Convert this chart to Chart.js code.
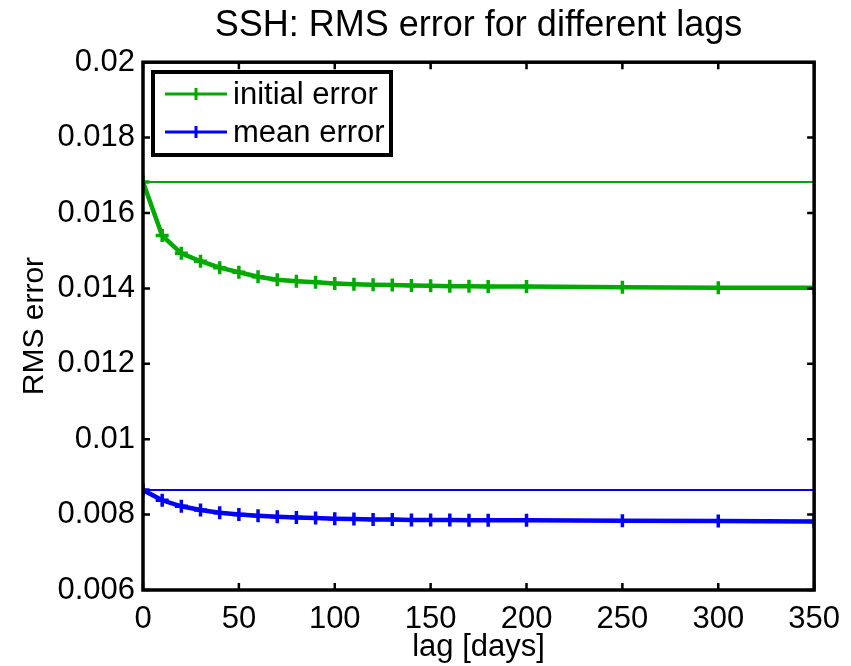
<!DOCTYPE html>
<html lang="en">
<head>
    <meta charset="UTF-8">
    <title>SSH: RMS error for different lags</title>
    <script src="https://cdn.jsdelivr.net/npm/chart.js@4.4.1/dist/chart.umd.min.js"></script>
    <style>
        body { margin: 0; background: #fff; }
        #wrap { width: 851px; height: 666px; }
    </style>
</head>
<body>
    <div id="wrap"><canvas id="myChart" width="851" height="666"></canvas></div>

    <script type="text/javascript">
        // lags in days
        var lags = [0, 10, 20, 30, 40, 50, 60, 70, 80, 90, 100, 110, 120, 130, 140, 150, 160, 170, 180, 200, 250, 300, 350];
        var initialError = [0.01682, 0.01540, 0.01493, 0.01472, 0.01455, 0.01443, 0.01431, 0.01423, 0.01419, 0.01416,
                            0.01413, 0.01411, 0.01410, 0.01409, 0.01408, 0.01407, 0.01406, 0.01406, 0.01405, 0.01405,
                            0.01403, 0.01402, 0.01402];
        var meanError = [0.00865, 0.00838, 0.00822, 0.00812, 0.00805, 0.00800, 0.00797, 0.00794, 0.00792, 0.00791,
                         0.00789, 0.00788, 0.00787, 0.00787, 0.00786, 0.00786, 0.00786, 0.00785, 0.00785, 0.00785,
                         0.00784, 0.00783, 0.00782];
        var initialRef = 0.01682;
        var meanRef = 0.00865;
        var yTicks = [0.006, 0.008, 0.01, 0.012, 0.014, 0.016, 0.018, 0.02];
        var xTicks = [0, 50, 100, 150, 200, 250, 300, 350];

        var green = 'rgb(0,170,0)';
        var blue = 'rgb(0,0,255)';
        var font = '"Liberation Sans", Arial, Helvetica, sans-serif';

        function pts(xs, ys) {
            return xs.map(function (x, i) { return { x: x, y: ys[i] }; });
        }

        // MATLAB style box: thick frame with inward ticks on all sides, plus a boxed legend
        var boxPlugin = {
            id: 'box',
            afterDatasetsDraw: function (chart) {
                var ctx = chart.ctx, a = chart.chartArea;
                var xs = chart.scales.x, ys = chart.scales.y;
                ctx.save();
                ctx.strokeStyle = '#000';
                ctx.lineWidth = 3.5;
                ctx.strokeRect(a.left, a.top, a.right - a.left, a.bottom - a.top);
                ctx.lineWidth = 2.5;
                ctx.beginPath();
                xTicks.forEach(function (v) {
                    var px = xs.getPixelForValue(v);
                    ctx.moveTo(px, a.bottom); ctx.lineTo(px, a.bottom - 7);
                    ctx.moveTo(px, a.top); ctx.lineTo(px, a.top + 7);
                });
                yTicks.forEach(function (v) {
                    var py = ys.getPixelForValue(v);
                    ctx.moveTo(a.left, py); ctx.lineTo(a.left + 7, py);
                    ctx.moveTo(a.right, py); ctx.lineTo(a.right - 7, py);
                });
                ctx.stroke();

                // legend
                var lx = 153, ly = 72, lw = 238, lh = 83;
                ctx.fillStyle = '#fff';
                ctx.fillRect(lx, ly, lw, lh);
                ctx.strokeStyle = '#000';
                ctx.lineWidth = 4;
                ctx.strokeRect(lx, ly, lw, lh);
                var items = chart.data.datasets.filter(function (d) { return d.inLegend; });
                ctx.font = '31px ' + font;
                ctx.textBaseline = 'middle';
                items.forEach(function (d, i) {
                    var cy = 94 + i * 38;
                    ctx.strokeStyle = d.borderColor;
                    ctx.lineWidth = 3;
                    ctx.beginPath();
                    ctx.moveTo(165, cy); ctx.lineTo(227, cy);
                    ctx.moveTo(196, cy - 6); ctx.lineTo(196, cy + 6);
                    ctx.stroke();
                    ctx.fillStyle = '#000';
                    ctx.fillText(d.label, 233, cy + 1);
                });
                ctx.restore();
            }
        };

        var ctx = document.getElementById('myChart').getContext('2d');
        var myChart = new Chart(ctx, {
            type: 'line',
            data: {
                datasets: [
                    {
                        label: 'initial ref',
                        data: pts([0, 350], [initialRef, initialRef]),
                        borderColor: green, borderWidth: 2, pointRadius: 0
                    },
                    {
                        label: 'mean ref',
                        data: pts([0, 350], [meanRef, meanRef]),
                        borderColor: blue, borderWidth: 2, pointRadius: 0
                    },
                    {
                        label: 'initial error',
                        inLegend: true,
                        data: pts(lags, initialError),
                        borderColor: green, backgroundColor: green,
                        borderWidth: 4.5, pointStyle: 'cross', pointRadius: 6.5,
                        pointBorderWidth: 3.5
                    },
                    {
                        label: 'mean error',
                        inLegend: true,
                        data: pts(lags, meanError),
                        borderColor: blue, backgroundColor: blue,
                        borderWidth: 4.5, pointStyle: 'cross', pointRadius: 6.5,
                        pointBorderWidth: 3.5
                    }
                ]
            },
            options: {
                responsive: false,
                animation: false,
                layout: { padding: { left: 0, right: 35, top: 0, bottom: 0 } },
                plugins: {
                    legend: { display: false },
                    tooltip: { enabled: false },
                    title: {
                        display: true,
                        text: 'SSH: RMS error for different lags',
                        color: '#000',
                        fullSize: false,
                        font: { family: font, size: 36, weight: 'normal', lineHeight: 1.2 },
                        padding: { top: 4, bottom: 15 }
                    }
                },
                scales: {
                    x: {
                        type: 'linear',
                        min: 0, max: 350,
                        afterBuildTicks: function (s) { s.ticks = xTicks.map(function (v) { return { value: v }; }); },
                        afterFit: function (s) { s.height = 76; },
                        grid: { display: false, drawTicks: false },
                        border: { display: false },
                        ticks: { color: '#000', padding: 11, maxRotation: 0, font: { family: font, size: 31 } },
                        title: {
                            display: true, text: 'lag [days]', color: '#000',
                            font: { family: font, size: 31 }, padding: { top: 0, bottom: 0 }
                        }
                    },
                    y: {
                        type: 'linear',
                        min: 0.006, max: 0.02,
                        afterBuildTicks: function (s) { s.ticks = yTicks.map(function (v) { return { value: v }; }); },
                        afterFit: function (s) { s.width = 143; },
                        grid: { display: false, drawTicks: false },
                        border: { display: false },
                        ticks: {
                            color: '#000', padding: 8, font: { family: font, size: 31 },
                            callback: function (v) { return String(parseFloat(Number(v).toFixed(3))); }
                        },
                        title: {
                            display: true, text: 'RMS error', color: '#000',
                            font: { family: font, size: 30 }, padding: { top: 17, bottom: 0 }
                        }
                    }
                }
            },
            plugins: [boxPlugin]
        });
    </script>
</body>
</html>
